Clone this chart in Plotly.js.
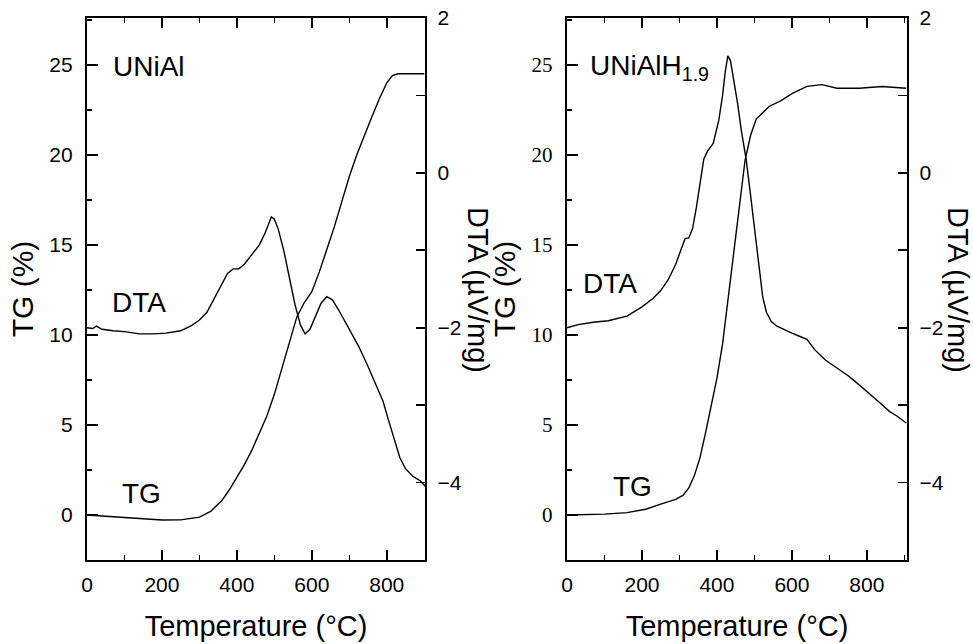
<!DOCTYPE html>
<html>
<head>
<meta charset="utf-8">
<script src="https://cdn.plot.ly/plotly-3.0.1.min.js"></script>
<style>html,body{margin:0;padding:0;background:#fff;}#chart{width:973px;height:644px;}</style>
</head>
<body>
<div id="chart"></div>
<script>
// ---- Data ----
// Left panel: UNiAl
const tempTG_L = [0,50,100,150,200,250,300,330,360,380,400,420,440,460,480,500,520,540,560,580,600,620,640,660,680,700,720,740,760,780,800,815,830,850,900];
const tg_L     = [0,-0.08,-0.15,-0.22,-0.28,-0.27,-0.12,0.2,0.8,1.4,2.1,2.8,3.6,4.5,5.5,6.7,8.1,9.6,11.0,11.8,12.4,13.5,14.7,16.0,17.4,18.8,20.0,21.1,22.1,23.1,24.0,24.4,24.5,24.5,24.5];
const tempDTA_L = [0,15,25,40,70,100,140,180,210,250,280,300,320,340,360,375,390,405,420,440,460,475,485,492,500,510,525,540,555,570,582,595,610,625,640,655,675,700,725,750,775,790,805,820,835,850,870,890,903];
const dta_L     = [-2.0,-2.01,-1.98,-2.02,-2.04,-2.05,-2.08,-2.08,-2.07,-2.04,-1.97,-1.90,-1.80,-1.62,-1.42,-1.30,-1.24,-1.24,-1.18,-1.06,-0.93,-0.78,-0.65,-0.57,-0.60,-0.72,-1.0,-1.36,-1.70,-1.97,-2.08,-2.02,-1.86,-1.68,-1.60,-1.64,-1.80,-2.02,-2.24,-2.50,-2.78,-2.95,-3.2,-3.45,-3.68,-3.82,-3.92,-3.98,-4.05];

// Right panel: UNiAlH1.9
const tempTG_R = [0,50,100,160,210,250,290,310,325,340,355,370,385,400,415,430,445,460,475,490,505,520,540,570,600,640,680,720,780,840,905];
const tg_R     = [0,0.02,0.05,0.13,0.32,0.6,0.87,1.1,1.5,2.2,3.2,4.6,6.1,7.6,9.5,12.0,14.4,17.1,19.7,21.1,22.0,22.3,22.7,23.0,23.4,23.8,23.9,23.7,23.7,23.8,23.7];
const tempDTA_R = [0,30,70,110,160,200,230,250,270,290,305,315,325,335,345,355,365,375,390,405,415,422,429,436,445,455,465,478,490,500,512,522,532,545,560,580,600,620,640,660,690,720,750,770,800,830,860,880,905];
const dta_R     = [-2.0,-1.96,-1.93,-1.91,-1.85,-1.73,-1.62,-1.52,-1.38,-1.18,-0.98,-0.85,-0.84,-0.72,-0.45,-0.12,0.18,0.28,0.38,0.68,1.0,1.3,1.51,1.45,1.2,0.9,0.55,0.17,-0.3,-0.7,-1.2,-1.6,-1.8,-1.92,-1.98,-2.03,-2.07,-2.11,-2.15,-2.28,-2.42,-2.52,-2.62,-2.70,-2.82,-2.95,-3.08,-3.14,-3.23];

const xTitle = 'Temperature (°C)';
const tgTitle = 'TG (%)';
const dtaTitle = 'DTA (µV/mg)';

// ---- Layout helpers ----
const W = 973, H = 644;
const px = x => x / W;
const py = y => 1 - y / H;
const sans = 'Liberation Sans, Arial, sans-serif';
const serif = 'Liberation Serif, Times New Roman, serif';
const black = '#000';

const line = {color: black, width: 1.4};
const traces = [
  {x: tempTG_L, y: tg_L, xaxis: 'x', yaxis: 'y', mode: 'lines', line: line, name: 'TG UNiAl'},
  {x: tempDTA_L, y: dta_L, xaxis: 'x', yaxis: 'y2', mode: 'lines', line: line, name: 'DTA UNiAl'},
  {x: tempTG_R, y: tg_R, xaxis: 'x2', yaxis: 'y3', mode: 'lines', line: line, name: 'TG UNiAlH1.9'},
  {x: tempDTA_R, y: dta_R, xaxis: 'x2', yaxis: 'y4', mode: 'lines', line: line, name: 'DTA UNiAlH1.9'}
];

const yDom = [py(560), py(18)];
function xAxis(dom, rng) {
  return {
    domain: dom, range: rng, showgrid: false, zeroline: false,
    showline: true, linewidth: 2.2, linecolor: black, mirror: 'ticks',
    ticks: 'inside', ticklen: 10, tickwidth: 1.8, tickcolor: black,
    tick0: 0, dtick: 200,
    minor: {ticks: 'inside', dtick: 100, ticklen: 5, tickwidth: 1.5, tickcolor: black},
    tickfont: {family: sans, size: 21, color: black},
    ticklabelstandoff: 5,
    title: {text: xTitle, font: {family: sans, size: 29, color: black}, standoff: 20}
  };
}
function tgAxis(anchor, fontFam) {
  return {
    domain: yDom, anchor: anchor, range: [-2.5, 27.6], showgrid: false, zeroline: false,
    showline: true, linewidth: 2.2, linecolor: black,
    ticks: 'inside', ticklen: 11, tickwidth: 1.8, tickcolor: black,
    tick0: 0, dtick: 5,
    minor: {ticks: 'inside', dtick: 2.5, ticklen: 5, tickwidth: 1.5, tickcolor: black},
    tickfont: {family: fontFam, size: 21, color: black},
    ticklabelstandoff: 8,
    title: {text: tgTitle, font: {family: sans, size: 30, color: black}, standoff: 7}
  };
}
function dtaAxis(anchor, over) {
  return {
    domain: yDom, anchor: anchor, overlaying: over, side: 'right',
    range: [-5, 2], showgrid: false, zeroline: false,
    showline: true, linewidth: 2.2, linecolor: black,
    ticks: 'inside', ticklen: 9, tickwidth: 1.8, tickcolor: black,
    tick0: 0, dtick: 2,
    minor: {ticks: 'inside', dtick: 1, ticklen: 9, tickwidth: 1.8, tickcolor: black},
    tickfont: {family: sans, size: 21, color: black},
    ticklabelstandoff: 6
  };
}

const annFont = {family: sans, size: 28, color: black};
const layout = {
  width: W, height: H,
  margin: {l: 0, r: 0, t: 0, b: 0},
  paper_bgcolor: '#fff', plot_bgcolor: 'rgba(0,0,0,0)',
  showlegend: false,
  xaxis: xAxis([px(87), px(425)], [0, 902]),
  yaxis: tgAxis('x', sans),
  yaxis2: dtaAxis('x', 'y'),
  xaxis2: Object.assign(xAxis([px(567), px(907)], [0, 907]), {anchor: 'y3'}),
  yaxis3: tgAxis('x2', serif),
  yaxis4: dtaAxis('x2', 'y3'),
  annotations: [
    {text: 'UNiAl', xref: 'paper', yref: 'paper', x: px(111), y: py(66), xanchor: 'left', yanchor: 'middle', showarrow: false, font: annFont},
    {text: 'DTA', xref: 'paper', yref: 'paper', x: px(110), y: py(302), xanchor: 'left', yanchor: 'middle', showarrow: false, font: annFont},
    {text: 'TG', xref: 'paper', yref: 'paper', x: px(120), y: py(493), xanchor: 'left', yanchor: 'middle', showarrow: false, font: annFont},
    {text: 'UNiAlH<sub>1.9</sub>', xref: 'paper', yref: 'paper', x: px(588), y: py(68), xanchor: 'left', yanchor: 'middle', showarrow: false, font: annFont},
    {text: 'DTA', xref: 'paper', yref: 'paper', x: px(581), y: py(283), xanchor: 'left', yanchor: 'middle', showarrow: false, font: annFont},
    {text: 'TG', xref: 'paper', yref: 'paper', x: px(611), y: py(486), xanchor: 'left', yanchor: 'middle', showarrow: false, font: annFont},
    {text: dtaTitle, xref: 'paper', yref: 'paper', x: px(478), y: py(290), xanchor: 'center', yanchor: 'middle', textangle: 90, showarrow: false, font: {family: sans, size: 29, color: black}},
    {text: dtaTitle, xref: 'paper', yref: 'paper', x: px(958), y: py(290), xanchor: 'center', yanchor: 'middle', textangle: 90, showarrow: false, font: {family: sans, size: 29, color: black}}
  ]
};

Plotly.newPlot('chart', traces, layout, {staticPlot: true, displayModeBar: false});
</script>
</body>
</html>
